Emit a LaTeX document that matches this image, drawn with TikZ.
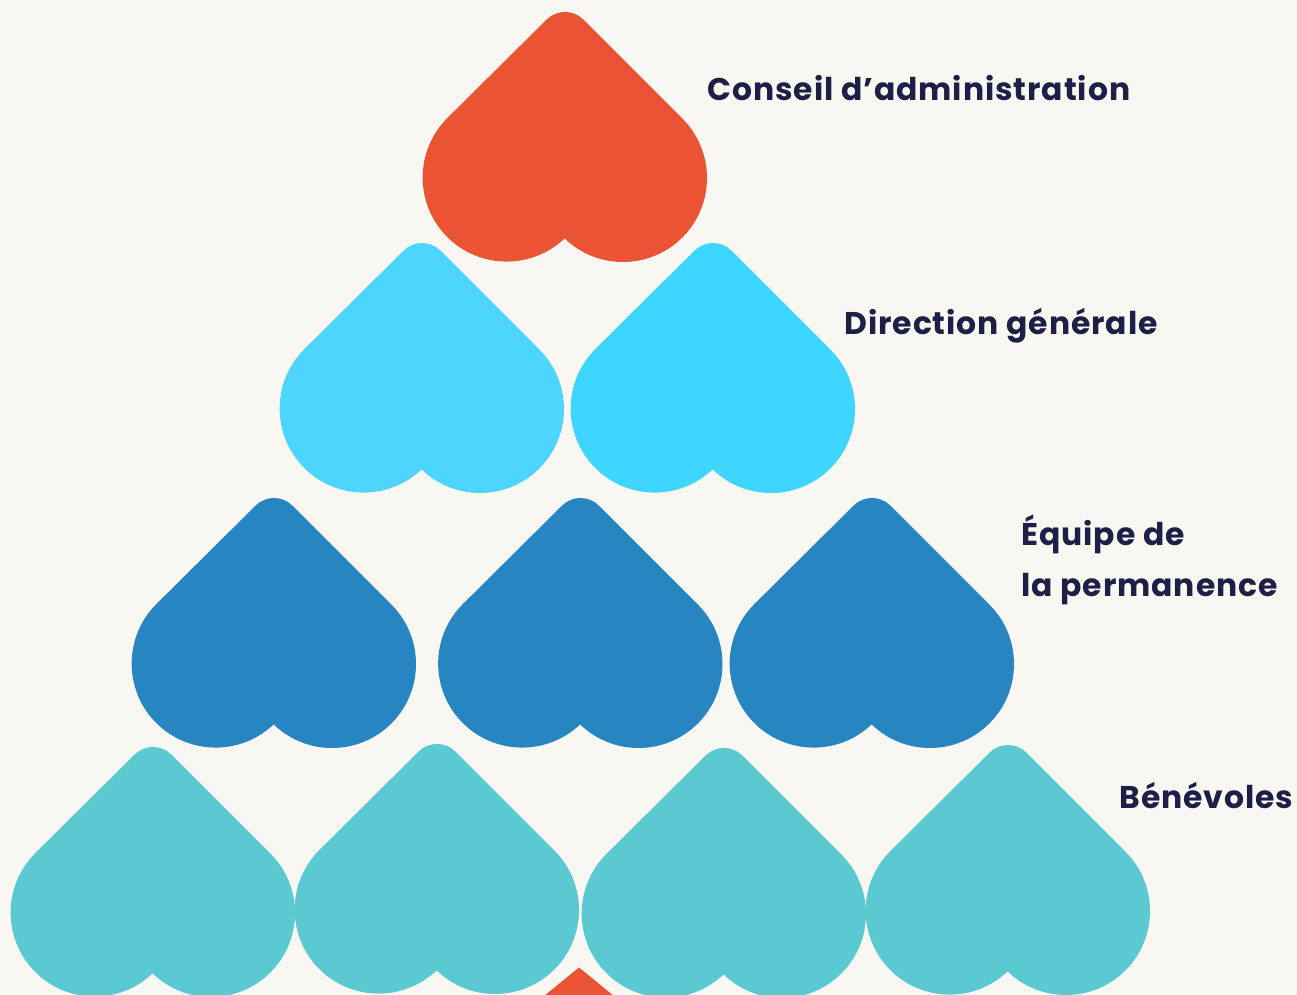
\documentclass[tikz,border=0pt]{standalone}
\usepackage{fontspec}
\setmainfont{Poppins}[BoldFont={Poppins Bold},LetterSpace=3]
\definecolor{bgc}{HTML}{F9F7F2}
\definecolor{redc}{HTML}{EB5335}
\definecolor{skya}{HTML}{4DD4FF}
\definecolor{skyb}{HTML}{3ED5FF}
\definecolor{bluec}{HTML}{2785C1}
\definecolor{tealc}{HTML}{5AC9D1}
\definecolor{inkc}{HTML}{1D1F47}
\tikzset{
  x=0.5pt,y=-0.5pt,
  label text/.style={font=\bfseries\fontsize{15.7}{18}\selectfont,text=inkc,inner sep=0pt,anchor=base west},
  heart/.pic={
    \fill[pic actions]
      (0,226) arc[start angle=-46,end angle=-225,radius=42pt]
      -- (-18.4,7.6)
      arc[start angle=135,end angle=45,radius=13pt]
      -- (117.4,106.6)
      arc[start angle=45,end angle=-134,radius=42pt]
      -- cycle;
  }
}
\begin{document}
\begin{tikzpicture}
\useasboundingbox (0,0) rectangle (1297,995);
\clip (0,0) rectangle (1297,995);
\fill[bgc] (0,0) rectangle (1297,995);
\pic[fill=redc] (h1) at (565,12) {heart};
\pic[fill=skya] (h2) at (422,243) {heart};
\pic[fill=skyb] (h3) at (713,243) {heart};
\pic[fill=bluec] (h4) at (274,498) {heart};
\pic[fill=bluec] (h5) at (580.5,498) {heart};
\pic[fill=bluec] (h6) at (872,498) {heart};
\pic[fill=tealc] (h7) at (153,747) {heart};
\pic[fill=tealc] (h8) at (437,744) {heart};
\pic[fill=tealc] (h9) at (724,748) {heart};
\pic[fill=tealc] (h10) at (1008,745) {heart};
\fill[redc] (579,967.5) -- (511,1023) -- (647,1023) -- cycle;
\node[label text] (t1) at (707,101) {Conseil d’administration};
\node[label text] (t2) at (844,334) {Direction générale};
\node[label text] (t3) at (1021,545) {Équipe de};
\node[label text] (t4) at (1021,596) {la permanence};
\node[label text] (t5) at (1119,808) {Bénévoles};
\end{tikzpicture}
\end{document}
